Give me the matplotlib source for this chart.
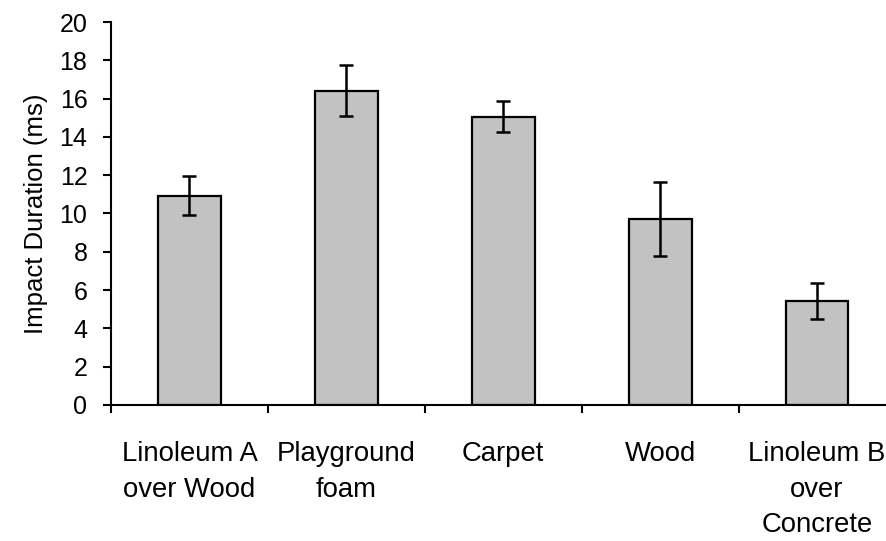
import numpy as np
import matplotlib
matplotlib.use("Agg")
import matplotlib.pyplot as plt

plt.rcParams['font.family'] = ['Liberation Sans', 'DejaVu Sans']

# mean impact duration per floor surface, with error bar half-widths
surfaces = ["Linoleum A\nover Wood", "Playground\nfoam", "Carpet", "Wood",
            "Linoleum B\nover\nConcrete"]
duration_ms = [10.93, 16.42, 15.05, 9.71, 5.42]
duration_err = [1.02, 1.34, 0.82, 1.95, 0.95]
yticks = [0, 2, 4, 6, 8, 10, 12, 14, 16, 18, 20]

fig = plt.figure(figsize=(8.87, 5.41), dpi=100)
ax = fig.add_axes([111 / 887, 136 / 541, 784.5 / 887, 383 / 541])

x = np.arange(len(surfaces))
ax.bar(x, duration_ms, width=0.4, color='#c2c2c2', edgecolor='black',
       linewidth=1.6, zorder=2)
ax.errorbar(x, duration_ms, yerr=duration_err, fmt='none', ecolor='black',
            elinewidth=1.8, capsize=5, capthick=1.8, zorder=3)

ax.set_xlim(-0.5, len(surfaces) - 0.5)
ax.set_ylim(0, 20)
ax.set_yticks(yticks)
ax.tick_params(axis='y', labelsize=18, length=6, width=1.5, pad=11)

# ticks sit between categories, labels under the bar centres
ax.set_xticks(np.arange(len(surfaces) + 1) - 0.5)
ax.set_xticklabels([])
ax.set_xticks(x, minor=True)
ax.set_xticklabels(surfaces, minor=True, fontsize=19.8, linespacing=1.47)
ax.tick_params(axis='x', which='major', length=6, width=1.5)
ax.tick_params(axis='x', which='minor', length=0, pad=26)

ax.set_ylabel("Impact Duration (ms)", fontsize=18.5, labelpad=8)

for side in ['top', 'right']:
    ax.spines[side].set_visible(False)
for side in ['left', 'bottom']:
    ax.spines[side].set_linewidth(1.5)

fig.savefig("out.png", dpi=100)
